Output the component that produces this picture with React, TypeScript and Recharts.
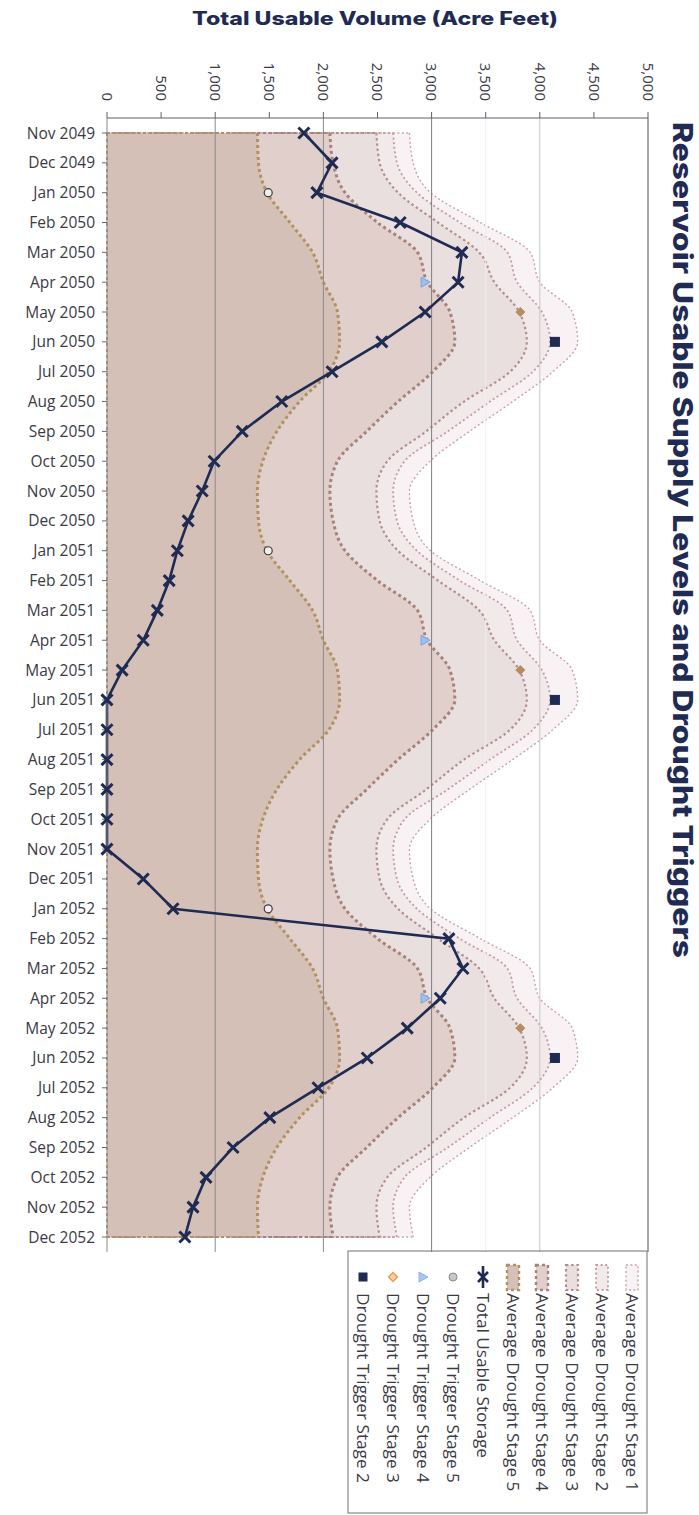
import React from 'react';
import { ComposedChart, Area, Line, XAxis, YAxis, ReferenceLine } from 'recharts';

const months = [
  'Nov 2049', 'Dec 2049',
  'Jan 2050', 'Feb 2050', 'Mar 2050', 'Apr 2050', 'May 2050', 'Jun 2050',
  'Jul 2050', 'Aug 2050', 'Sep 2050', 'Oct 2050', 'Nov 2050', 'Dec 2050',
  'Jan 2051', 'Feb 2051', 'Mar 2051', 'Apr 2051', 'May 2051', 'Jun 2051',
  'Jul 2051', 'Aug 2051', 'Sep 2051', 'Oct 2051', 'Nov 2051', 'Dec 2051',
  'Jan 2052', 'Feb 2052', 'Mar 2052', 'Apr 2052', 'May 2052', 'Jun 2052',
  'Jul 2052', 'Aug 2052', 'Sep 2052', 'Oct 2052', 'Nov 2052', 'Dec 2052',
];

const stage1 = [
  2795, 2830,
  2990, 3450, 3910, 4000, 4300, 4350, 4120, 3750, 3350, 2985, 2795, 2830,
  2990, 3450, 3910, 4000, 4300, 4350, 4120, 3750, 3350, 2985, 2795, 2830,
  2990, 3450, 3910, 4000, 4300, 4350, 4120, 3750, 3350, 2985, 2795, 2830,
];
const stage2 = [
  2645, 2680,
  2865, 3260, 3700, 3790, 4020, 4095, 3935, 3540, 3150, 2750, 2645, 2680,
  2865, 3260, 3700, 3790, 4020, 4095, 3935, 3540, 3150, 2750, 2645, 2680,
  2865, 3260, 3700, 3790, 4020, 4095, 3935, 3540, 3150, 2750, 2645, 2680,
];
const stage3 = [
  2490, 2520,
  2690, 3060, 3440, 3580, 3810, 3880, 3725, 3300, 2950, 2590, 2490, 2520,
  2690, 3060, 3440, 3580, 3810, 3880, 3725, 3300, 2950, 2590, 2490, 2520,
  2690, 3060, 3440, 3580, 3810, 3880, 3725, 3300, 2950, 2590, 2490, 2520,
];
const stage4 = [
  2060, 2090,
  2200, 2500, 2870, 2960, 3170, 3215, 3010, 2690, 2400, 2130, 2060, 2090,
  2200, 2500, 2870, 2960, 3170, 3215, 3010, 2690, 2400, 2130, 2060, 2090,
  2200, 2500, 2870, 2960, 3170, 3215, 3010, 2690, 2400, 2130, 2060, 2090,
];
const stage5 = [
  1390, 1400,
  1480, 1690, 1900, 2000, 2130, 2150, 2050, 1780, 1570, 1440, 1390, 1400,
  1480, 1690, 1900, 2000, 2130, 2150, 2050, 1780, 1570, 1440, 1390, 1400,
  1480, 1690, 1900, 2000, 2130, 2150, 2050, 1780, 1570, 1440, 1390, 1400,
];

const totalStorage = [
  1820, 2080,
  1940, 2710, 3280, 3245, 2940, 2540, 2080, 1615, 1250, 990, 880, 750,
  650, 575, 465, 335, 140, 0, 0, 0, 0, 0, 0, 335,
  610, 3160, 3290, 3080, 2775, 2405, 1950, 1505, 1165, 915, 795, 720,
];

const n = null;
const trigger5 = [
  n, n,
  1490, n, n, n, n, n, n, n, n, n, n, n,
  1490, n, n, n, n, n, n, n, n, n, n, n,
  1490, n, n, n, n, n, n, n, n, n, n, n,
];
const trigger4 = [
  n, n,
  n, n, n, 2940, n, n, n, n, n, n, n, n,
  n, n, n, 2940, n, n, n, n, n, n, n, n,
  n, n, n, 2940, n, n, n, n, n, n, n, n,
];
const trigger3 = [
  n, n,
  n, n, n, n, 3820, n, n, n, n, n, n, n,
  n, n, n, n, 3820, n, n, n, n, n, n, n,
  n, n, n, n, 3820, n, n, n, n, n, n, n,
];
const trigger2 = [
  n, n,
  n, n, n, n, n, 4140, n, n, n, n, n, n,
  n, n, n, n, n, 4140, n, n, n, n, n, n,
  n, n, n, n, n, 4140, n, n, n, n, n, n,
];

const valueTicks = [0, 500, 1000, 1500, 2000, 2500, 3000, 3500, 4000, 4500, 5000];

const NAVY = '#1f2b52';
const TEXT = '#3a3a46';
const FONT = '"Open Sans", "Noto Sans", sans-serif';

const stages = [
  { key: 's1', name: 'Average Drought Stage 1', values: stage1, fill: '#f8f2f4', stroke: '#c9a2ad', width: 1.4, dash: '2 2.4' },
  { key: 's2', name: 'Average Drought Stage 2', values: stage2, fill: '#f2e9eb', stroke: '#c39ba2', width: 1.8, dash: '2 2.6' },
  { key: 's3', name: 'Average Drought Stage 3', values: stage3, fill: '#eadfdf', stroke: '#b48d8d', width: 2.2, dash: '2.4 2.8' },
  { key: 's4', name: 'Average Drought Stage 4', values: stage4, fill: '#e0cfcb', stroke: '#a88279', width: 3, dash: '3 3' },
  { key: 's5', name: 'Average Drought Stage 5', values: stage5, fill: '#d5c0b7', stroke: '#b39061', width: 3, dash: '3 3' },
];

const data = months.map((m, i) => ({
  month: m,
  s1: stage1[i],
  s2: stage2[i],
  s3: stage3[i],
  s4: stage4[i],
  s5: stage5[i],
  total: totalStorage[i],
  t5: trigger5[i],
  t4: trigger4[i],
  t3: trigger3[i],
  t2: trigger2[i],
}));

const gridLines = [
  { v: 1000, c: '#8a8a8a' },
  { v: 2000, c: '#8a8a8a' },
  { v: 3000, c: '#7e7e7e' },
  { v: 3500, c: '#efefef' },
  { v: 4000, c: '#c6c6c6' },
  { v: 5000, c: '#4d4d5a' },
];

const ValueTick = (props: any) => {
  const { x, y, payload } = props;
  return (
    <text
      transform={`translate(${x},${y}) rotate(90)`}
      textAnchor="end"
      dy="0.35em"
      fontSize={15}
      fontFamily={FONT}
      fill={TEXT}
    >
      {payload.value.toLocaleString('en-US')}
    </text>
  );
};

const xDot = (p: any) => {
  const { cx, cy, index } = p;
  if (cx == null || cy == null || p.value == null) return <g key={index} />;
  const s = 5.5;
  return (
    <path
      key={index}
      d={`M${cx - s},${cy - s}L${cx + s},${cy + s}M${cx - s},${cy + s}L${cx + s},${cy - s}`}
      stroke={NAVY}
      strokeWidth={3}
      fill="none"
    />
  );
};

const circleDot = (p: any) => {
  const { cx, cy, index, value } = p;
  if (cx == null || cy == null || value == null) return <g key={index} />;
  return <circle key={index} cx={cx} cy={cy} r={4} fill="#eeeeee" stroke="#3a3a3a" strokeWidth={1.2} />;
};

const triangleDot = (p: any) => {
  const { cx, cy, index, value } = p;
  if (cx == null || cy == null || value == null) return <g key={index} />;
  return (
    <path
      key={index}
      d={`M${cx - 4},${cy - 5}L${cx + 5},${cy}L${cx - 4},${cy + 5}Z`}
      fill="#9cc0ee"
      stroke="#7aa4dc"
      strokeWidth={1}
    />
  );
};

const diamondDot = (p: any) => {
  const { cx, cy, index, value } = p;
  if (cx == null || cy == null || value == null) return <g key={index} />;
  return (
    <path
      key={index}
      d={`M${cx},${cy - 4.5}L${cx + 4.5},${cy}L${cx},${cy + 4.5}L${cx - 4.5},${cy}Z`}
      fill="#b58d5e"
      stroke="#b58d5e"
      strokeWidth={1}
    />
  );
};

const squareDot = (p: any) => {
  const { cx, cy, index, value } = p;
  if (cx == null || cy == null || value == null) return <g key={index} />;
  return <rect key={index} x={cx - 5} y={cy - 5} width={10} height={10} fill={NAVY} />;
};

const legendCols = [632, 602, 572, 542, 513, 483, 453, 423, 393, 363];
const legendTop = 1277;

const LegendSymbol = ({ i, x }: { i: number; x: number }) => {
  if (i < 5) {
    const s = stages[i];
    return (
      <rect
        x={x - 6}
        y={legendTop - 12}
        width={12}
        height={25}
        fill={s.fill}
        stroke={s.stroke}
        strokeWidth={Math.min(s.width, 2.4)}
        strokeDasharray={s.dash}
      />
    );
  }
  if (i === 5) {
    return (
      <g stroke={NAVY} strokeWidth={2.6}>
        <line x1={x} y1={legendTop - 11} x2={x} y2={legendTop + 11} />
        <path d={`M${x - 5},${legendTop - 5}L${x + 5},${legendTop + 5}M${x - 5},${legendTop + 5}L${x + 5},${legendTop - 5}`} />
      </g>
    );
  }
  if (i === 6) return <circle cx={x} cy={legendTop} r={4} fill="#c8c8c8" stroke="#8a8a8a" />;
  if (i === 7) return <path d={`M${x - 4},${legendTop - 5}L${x + 5},${legendTop}L${x - 4},${legendTop + 5}Z`} fill="#a8c6f0" stroke="#8fb2e6" />;
  if (i === 8) return <path d={`M${x},${legendTop - 4.5}L${x + 4.5},${legendTop}L${x},${legendTop + 4.5}L${x - 4.5},${legendTop}Z`} fill="#f7cfa0" stroke="#eb9a52" strokeWidth={1.3} />;
  return <rect x={x - 4.5} y={legendTop - 4.5} width={9} height={9} fill={NAVY} />;
};

const legendNames = [
  ...stages.map((s) => s.name),
  'Total Usable Storage',
  'Drought Trigger Stage 5',
  'Drought Trigger Stage 4',
  'Drought Trigger Stage 3',
  'Drought Trigger Stage 2',
];

export default function App() {
  const first = months[0];
  const last = months[months.length - 1];
  return (
    <div style={{ position: 'absolute', left: 0, top: 0, width: 699, height: 1515, background: '#fff' }}>
      <ComposedChart
        width={699}
        height={1515}
        data={data}
        layout="vertical"
        margin={{ top: 48, right: 51, bottom: 263, left: 7 }}
      >
        <XAxis
          type="number"
          orientation="top"
          domain={[0, 5000]}
          ticks={valueTicks}
          interval={0}
          height={70}
          tickSize={6}
          tickMargin={11}
          tick={<ValueTick />}
          axisLine={{ stroke: '#5f5f6a' }}
          tickLine={{ stroke: '#5f5f6a' }}
        />
        <YAxis
          type="category"
          dataKey="month"
          width={100}
          interval={0}
          padding={{ top: 15, bottom: 15 }}
          tickSize={5}
          tickMargin={7}
          tick={{ fontSize: 15.5, fill: TEXT, fontFamily: FONT }}
          axisLine={{ stroke: '#8a8a8a' }}
          tickLine={{ stroke: '#6a6a6a' }}
        />
        {stages.map((s) => (
          <Area
            key={s.key}
            type="monotone"
            dataKey={s.key}
            name={s.name}
            stroke={s.stroke}
            strokeWidth={s.width}
            strokeDasharray={s.dash}
            fill={s.fill}
            fillOpacity={1}
            isAnimationActive={false}
          />
        ))}
        {stages.map((s) => (
          <ReferenceLine
            key={'top' + s.key}
            segment={[{ x: 0, y: first }, { x: s.values[0], y: first }]}
            stroke={s.stroke}
            strokeWidth={Math.min(s.width, 2)}
            strokeDasharray={s.dash}
          />
        ))}
        {stages.map((s) => (
          <ReferenceLine
            key={'bot' + s.key}
            segment={[{ x: 0, y: last }, { x: s.values[s.values.length - 1], y: last }]}
            stroke={s.stroke}
            strokeWidth={Math.min(s.width, 2)}
            strokeDasharray={s.dash}
          />
        ))}
        <ReferenceLine
          segment={[{ x: 0, y: first }, { x: 0, y: last }]}
          stroke="#b39061"
          strokeWidth={2}
          strokeDasharray="3 3"
        />
        {gridLines.map((g) => (
          <ReferenceLine key={g.v} x={g.v} stroke={g.c} strokeWidth={1} />
        ))}
        <Line dataKey="t5" name="Drought Trigger Stage 5" stroke="none" dot={circleDot} activeDot={false} isAnimationActive={false} />
        <Line dataKey="t4" name="Drought Trigger Stage 4" stroke="none" dot={triangleDot} activeDot={false} isAnimationActive={false} />
        <Line dataKey="t3" name="Drought Trigger Stage 3" stroke="none" dot={diamondDot} activeDot={false} isAnimationActive={false} />
        <Line dataKey="t2" name="Drought Trigger Stage 2" stroke="none" dot={squareDot} activeDot={false} isAnimationActive={false} />
        <Line
          type="linear"
          dataKey="total"
          name="Total Usable Storage"
          stroke={NAVY}
          strokeWidth={2.6}
          dot={xDot}
          activeDot={false}
          isAnimationActive={false}
        />
      </ComposedChart>

      <svg
        width={699}
        height={1515}
        style={{ position: 'absolute', left: 0, top: 0, pointerEvents: 'none' }}
      >
        <text
          x={375}
          y={25}
          textAnchor="middle"
          fontFamily="Inter, sans-serif"
          fontWeight={800}
          fontSize={18.5}
          fill={NAVY}
          textLength={366}
          lengthAdjust="spacingAndGlyphs"
        >
          Total Usable Volume (Acre Feet)
        </text>
        <text
          transform="translate(673,122) rotate(90)"
          fontFamily="Inter, sans-serif"
          fontWeight={800}
          fontSize={27}
          fill={NAVY}
          textLength={836}
          lengthAdjust="spacingAndGlyphs"
        >
          Reservoir Usable Supply Levels and Drought Triggers
        </text>

        <rect x={348} y={1251} width={299} height={262} fill="none" stroke="#707070" strokeWidth={1} />
        {legendNames.map((name, i) => (
          <g key={name}>
            <LegendSymbol i={i} x={legendCols[i]} />
            <text
              transform={`translate(${legendCols[i]},1293) rotate(90)`}
              dy="0.35em"
              fontFamily={FONT}
              fontSize={17.2}
              fill={TEXT}
            >
              {name}
            </text>
          </g>
        ))}
      </svg>
    </div>
  );
}
